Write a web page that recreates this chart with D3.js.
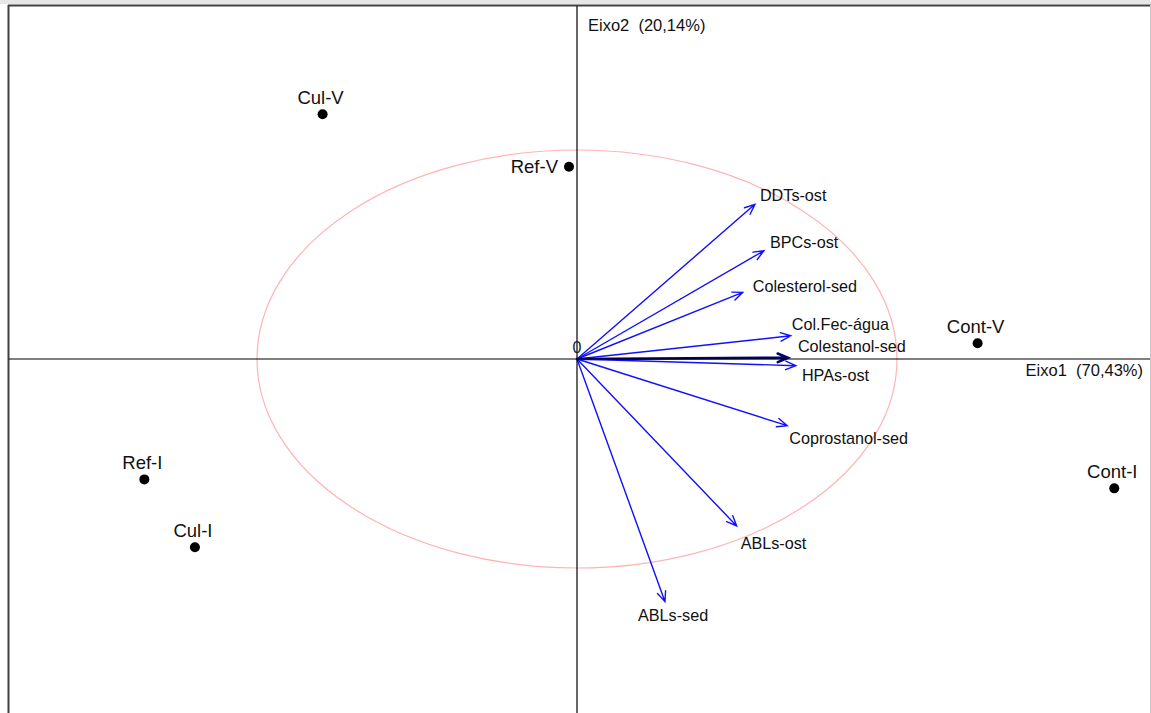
<!DOCTYPE html>
<html>
<head>
<meta charset="utf-8">
<script src="https://cdn.jsdelivr.net/npm/d3@7"></script>
<style>
  html, body { margin: 0; padding: 0; background: #fff; }
  svg { display: block; font-family: "Liberation Sans", Arial, sans-serif; }
  text { white-space: pre; }
</style>
</head>
<body>
<svg id="chart" width="1151" height="713"></svg>
<script>
// Sites (scores on the first two axes)
const siteNames = ["Cul-V", "Ref-V", "Cont-V", "Cont-I", "Ref-I", "Cul-I"];
const siteX = [-0.795, -0.025, 1.252, 1.679, -1.352, -1.194];
const siteY = [1.171, 0.920, 0.075, -0.619, -0.576, -0.901];

// Variables (loadings drawn as arrows)
const varNames = ["DDTs-ost", "BPCs-ost", "Colesterol-sed", "Col.Fec-água", "Colestanol-sed",
                  "HPAs-ost", "Coprostanol-sed", "ABLs-ost", "ABLs-sed"];
const varX = [0.556, 0.584, 0.518, 0.668, 0.659, 0.684, 0.657, 0.499, 0.275];
const varY = [0.740, 0.518, 0.319, 0.111, 0.006, -0.032, -0.319, -0.799, -1.161];

const axis1Title = "Eixo1  (70,43%)";
const axis2Title = "Eixo2  (20,14%)";

const svg = d3.select("#chart");

// Unit circle maps to an ellipse because the two axes use different pixel scales
const x = d3.scaleLinear().domain([-1, 1]).range([257, 897]);
const y = d3.scaleLinear().domain([-1, 1]).range([568, 150]);

// Outer frame
svg.append("rect").attr("x", 0).attr("y", 0).attr("width", 1151).attr("height", 4).attr("fill", "#e6e6e6");
svg.append("line").attr("x1", 8).attr("x2", 1151).attr("y1", 5.5).attr("y2", 5.5)
  .attr("stroke", "#404040").attr("stroke-width", 2);
svg.append("line").attr("x1", 8.5).attr("x2", 8.5).attr("y1", 5).attr("y2", 713)
  .attr("stroke", "#404040").attr("stroke-width", 2);
svg.append("line").attr("x1", 1150.5).attr("x2", 1150.5).attr("y1", 5).attr("y2", 713)
  .attr("stroke", "#c8c8c8").attr("stroke-width", 1);

// Correlation circle
svg.append("ellipse")
  .attr("cx", x(0)).attr("cy", y(0))
  .attr("rx", x(1) - x(0)).attr("ry", y(0) - y(1))
  .attr("fill", "none").attr("stroke", "#ffb4b4").attr("stroke-width", 1.2);

// Variable arrows
const vars = varNames.map((n, i) => ({ name: n, x: varX[i], y: varY[i] }));
const head = 11, spread = 0.40;
const arrows = svg.append("g").attr("stroke", "#1010ff").attr("fill", "none")
  .attr("stroke-linecap", "round");
vars.forEach(v => {
  const x0 = x(0), y0 = y(0), x1 = x(v.x), y1 = y(v.y);
  const a = Math.atan2(y1 - y0, x1 - x0);
  const p = d3.path();
  p.moveTo(x0, y0); p.lineTo(x1, y1);
  p.moveTo(x1 - head * Math.cos(a - spread), y1 - head * Math.sin(a - spread));
  p.lineTo(x1, y1);
  p.lineTo(x1 - head * Math.cos(a + spread), y1 - head * Math.sin(a + spread));
  // the arrow lying on the horizontal axis blends with it into a dark, heavier stroke
  const onAxis = Math.abs(y1 - y0) < 3;
  arrows.append("path").attr("d", p.toString())
    .attr("stroke", onAxis ? "#00007a" : null)
    .attr("stroke-width", onAxis ? 2.6 : 1.4);
});

// Axes through the origin
svg.append("line").attr("x1", 9).attr("x2", 1150).attr("y1", y(0)).attr("y2", y(0))
  .attr("stroke", "#000").attr("stroke-width", 1.2);
svg.append("line").attr("x1", x(0)).attr("x2", x(0)).attr("y1", 6).attr("y2", 713)
  .attr("stroke", "#000").attr("stroke-width", 1.2);

svg.append("text").attr("x", x(0)).attr("y", y(0) - 6).attr("text-anchor", "middle")
  .attr("font-size", 16).attr("fill", "#222").text("0");

svg.append("text").attr("x", 1143).attr("y", y(0) + 17).attr("text-anchor", "end")
  .attr("font-size", 16.5).attr("fill", "#111").text(axis1Title);
svg.append("text").attr("x", x(0) + 11).attr("y", 31)
  .attr("font-size", 16.5).attr("fill", "#111").text(axis2Title);

// Label offsets (px) from each arrow tip, keeping neighbouring labels apart
const labelNudge = {
  "DDTs-ost": [5, -9], "BPCs-ost": [6, -8], "Colesterol-sed": [10, -6],
  "Col.Fec-água": [1, -11], "Colestanol-sed": [10, -11], "HPAs-ost": [6, 10],
  "Coprostanol-sed": [2, 13], "ABLs-ost": [4, 17], "ABLs-sed": [-27, 14]
};
svg.append("g").selectAll("text").data(vars).join("text")
  .attr("x", d => x(d.x) + labelNudge[d.name][0])
  .attr("y", d => y(d.y) + labelNudge[d.name][1])
  .attr("dy", "0.35em")
  .attr("font-size", 16.2).attr("fill", "#111")
  .text(d => d.name);

// Site points and labels
const sites = siteNames.map((n, i) => ({ name: n, x: siteX[i], y: siteY[i] }));
svg.append("g").selectAll("circle").data(sites).join("circle")
  .attr("cx", d => x(d.x)).attr("cy", d => y(d.y)).attr("r", 5).attr("fill", "#000");

svg.append("g").selectAll("text").data(sites).join("text")
  .attr("x", d => d.name === "Ref-V" ? x(d.x) - 11 : x(d.x) - 2)
  .attr("y", d => d.name === "Ref-V" ? y(d.y) : y(d.y) - 17)
  .attr("dy", "0.35em")
  .attr("text-anchor", d => d.name === "Ref-V" ? "end" : "middle")
  .attr("font-size", 18.5).attr("fill", "#111")
  .text(d => d.name);
</script>
</body>
</html>
